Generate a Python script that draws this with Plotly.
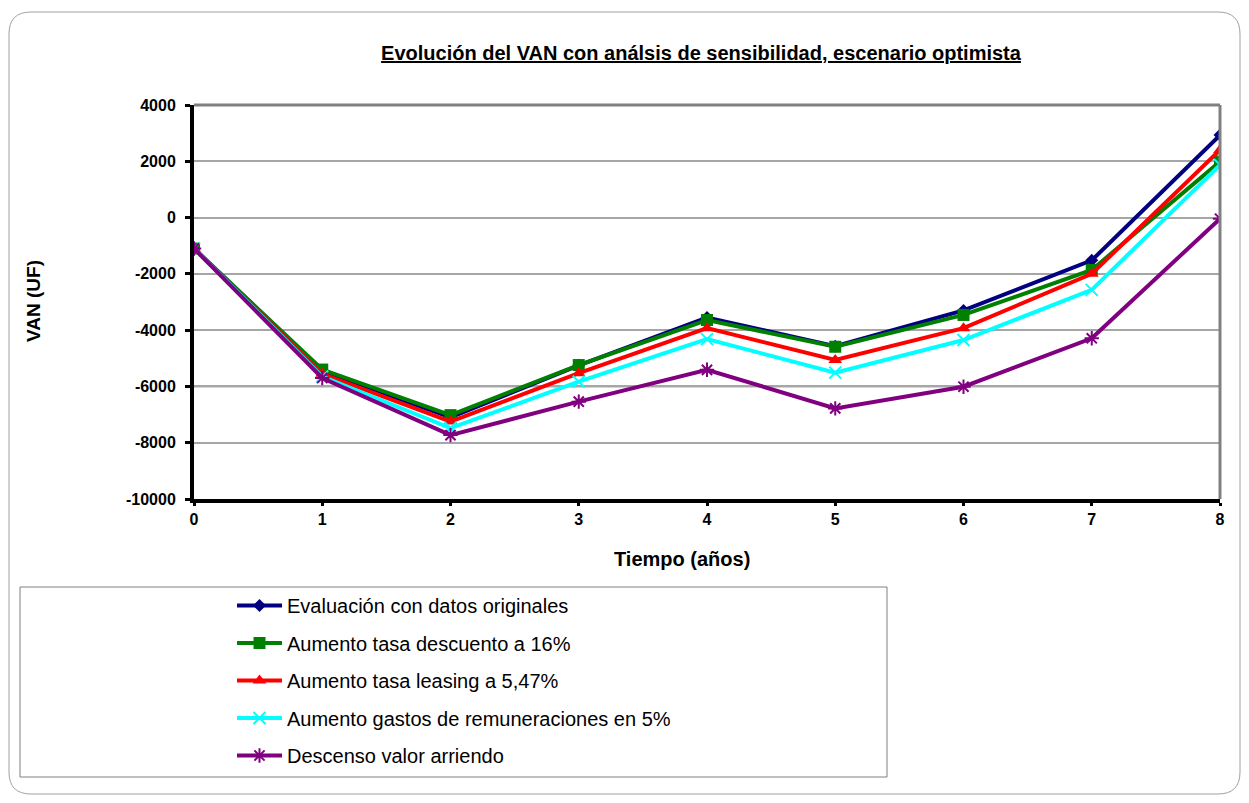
import plotly.graph_objects as go

years = [0, 1, 2, 3, 4, 5, 6, 7, 8]
x_tick_labels = ["0", "1", "2", "3", "4", "5", "6", "7", "8"]
y_tick_values = [4000, 2000, 0, -2000, -4000, -6000, -8000, -10000]

names = [
    "Evaluación con datos originales",
    "Aumento tasa descuento a 16%",
    "Aumento tasa leasing a 5,47%",
    "Aumento gastos de remuneraciones en 5%",
    "Descenso valor arriendo",
]
van_original = [-1100, -5450, -7100, -5250, -3550, -4570, -3300, -1520, 2930]
van_descuento = [-1100, -5400, -7020, -5240, -3640, -4590, -3460, -1860, 1990]
van_leasing = [-1100, -5550, -7250, -5530, -3930, -5060, -3930, -2000, 2400]
van_remuneraciones = [-1100, -5650, -7480, -5830, -4320, -5510, -4350, -2570, 1870]
van_arriendo = [-1100, -5700, -7730, -6540, -5410, -6780, -6010, -4290, -40]

series = [van_original, van_descuento, van_leasing, van_remuneraciones, van_arriendo]
colors = ["#000080", "#008000", "#FF0000", "#00FFFF", "#800080"]
symbols = ["diamond", "square", "triangle-up", "x-thin", "asterisk"]
sizes = [10, 12, 12, 12, 12]

FONT = "Arial, Liberation Sans, sans-serif"

fig = go.Figure()
for i, (nm, vals) in enumerate(zip(names, series)):
    sym = symbols[i]
    marker = dict(symbol=sym, size=sizes[i], color=colors[i])
    if sym in ("x-thin", "asterisk"):
        marker["line"] = dict(color=colors[i], width=2)
    fig.add_trace(go.Scatter(
        x=years, y=vals, name=nm, mode="lines+markers",
        line=dict(color=colors[i], width=4),
        marker=marker,
        legendgroup=f"g{i}",
    ))

# page is offset by body margin of 8px
OFF = 8
W, H = 1249 - 2 * OFF, 803 - 2 * OFF
# plot area in page pixels: x 194..1220, y 105..499
PL, PR, PT, PB = 194, 1220, 105, 499
pw, ph = PR - PL, PB - PT

def px(xp):
    return (xp - PL) / pw

def py(yp):
    return (PB - yp) / ph

shapes = []
shapes.append(dict(type="line", xref="paper", yref="y", x0=0, x1=1, y0=-6000, y1=-6000,
                   line=dict(color="#555555", width=1.5), layer="below"))
shapes.append(dict(type="line", xref="paper", yref="paper", x0=0, x1=1, y0=1, y1=1,
                   line=dict(color="#808080", width=3)))
shapes.append(dict(type="line", xref="paper", yref="paper", x0=1, x1=1, y0=0, y1=1,
                   line=dict(color="#808080", width=3)))
x0, x1, y0, y1, r = 9, 1240, 12, 794, 22
path = (f"M {px(x0 + r)},{py(y0)} L {px(x1 - r)},{py(y0)} "
        f"Q {px(x1)},{py(y0)} {px(x1)},{py(y0 + r)} "
        f"L {px(x1)},{py(y1 - r)} Q {px(x1)},{py(y1)} {px(x1 - r)},{py(y1)} "
        f"L {px(x0 + r)},{py(y1)} Q {px(x0)},{py(y1)} {px(x0)},{py(y1 - r)} "
        f"L {px(x0)},{py(y0 + r)} Q {px(x0)},{py(y0)} {px(x0 + r)},{py(y0)} Z")
shapes.append(dict(type="path", xref="paper", yref="paper", path=path,
                   line=dict(color="#A0A0A0", width=1)))
shapes.append(dict(type="rect", xref="paper", yref="paper",
                   x0=px(20), x1=px(887), y0=py(587), y1=py(777),
                   line=dict(color="#808080", width=1)))

annotations = [
    dict(text="<b>Tiempo (años)</b>", xref="paper", yref="paper", x=px(682), y=py(559),
         xanchor="center", yanchor="middle", showarrow=False, font=dict(size=20, family=FONT)),
    dict(text="<b>VAN (UF)</b>", xref="paper", yref="paper", x=px(33), y=py(301),
         xanchor="center", yanchor="middle", showarrow=False, textangle=-90,
         font=dict(size=19, family=FONT)),
]

fig.update_layout(
    width=W, height=H,
    margin=dict(l=PL - OFF, r=W - (PR - OFF), t=PT - OFF, b=H - (PB - OFF)),
    paper_bgcolor="white", plot_bgcolor="white",
    font=dict(family=FONT, color="black"),
    title=dict(text="<b><u>Evolución del VAN con análsis de sensibilidad, escenario optimista</u></b>",
               x=px(701), xref="paper", xanchor="center", y=1 - (53 - OFF) / H, yanchor="middle",
               font=dict(size=20)),
    xaxis=dict(range=[0, 8], tickvals=years, ticktext=[f"<b>{t}</b>" for t in x_tick_labels],
               showgrid=False, zeroline=False,
               showline=True, linecolor="black", linewidth=4,
               ticks="outside", ticklen=3, tickwidth=3, tickcolor="black",
               tickfont=dict(size=16)),
    yaxis=dict(range=[-10000, 4000], tickvals=y_tick_values,
               ticktext=[f"<b>{v}</b>" for v in y_tick_values],
               showgrid=True, gridcolor="#A6A6A6", gridwidth=1.5, zeroline=False,
               showline=True, linecolor="black", linewidth=4,
               ticks="outside", ticklen=5, tickwidth=3, tickcolor="black",
               ticklabelstandoff=6,
               tickfont=dict(size=16)),
    legend=dict(x=px(232), y=py(586), xanchor="left", yanchor="top",
                bgcolor="rgba(0,0,0,0)", borderwidth=0,
                font=dict(size=20), tracegroupgap=8.5, itemwidth=45),
    shapes=shapes,
    annotations=annotations,
    showlegend=True,
)

fig.write_html("out.html")
